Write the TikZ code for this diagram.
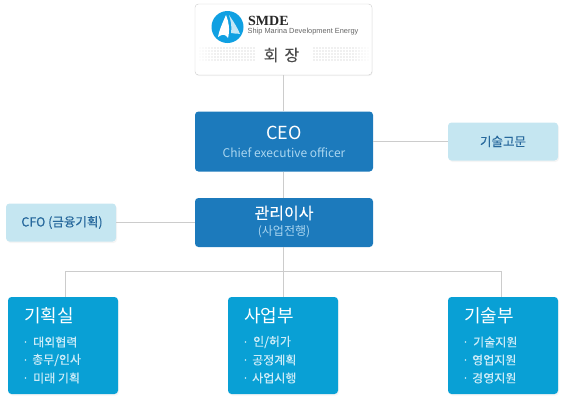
\documentclass[tikz,border=0pt]{standalone}
\usepackage{fontspec}
\setmainfont{Noto Sans CJK KR}
\newfontfamily\thickfont[FakeBold=0.25]{Noto Sans CJK KR}
\newfontfamily\logoserif{Liberation Serif}
\newfontfamily\logosans{Liberation Sans}
\usepackage[dvipsnames]{xcolor}
\usetikzlibrary{shapes,positioning,calc,shadows}
\definecolor{ceoblue}{RGB}{28,122,188}
\definecolor{deptblue}{RGB}{9,160,213}
\definecolor{paleblue}{RGB}{197,230,241}
\definecolor{paletext}{RGB}{38,104,156}
\definecolor{subtext}{RGB}{170,214,240}
\definecolor{itemtext}{RGB}{205,236,248}
\definecolor{linegray}{RGB}{204,204,204}
\definecolor{logoblue}{RGB}{16,160,226}
\tikzset{
	box/.style={rounded corners=3.5pt, inner sep=0pt, align=center},
	officebox/.style={box, fill=ceoblue, minimum width=178pt},
	sidebox/.style={box, fill=paleblue, minimum width=110pt, minimum height=38pt, text=paletext, font=\thickfont\fontsize{12.5}{14}\selectfont, drop shadow={shadow xshift=1pt, shadow yshift=-1.5pt, opacity=.08}},
	deptbox/.style={box, fill=deptblue, minimum width=110pt, minimum height=97pt, drop shadow={shadow xshift=1pt, shadow yshift=-1.5pt, opacity=.08}},
	depttitle/.style={inner sep=0pt, text=white, font=\fontsize{18}{20}\selectfont},
	deptitem/.style={inner sep=0pt, anchor=west, text=itemtext, font=\thickfont\fontsize{12}{14}\selectfont},
	link/.style={draw=linegray, line width=0.9pt},
}
\begin{document}
\begin{tikzpicture}[x=1pt, y=1pt]
	\useasboundingbox (0,0) rectangle (565,-400);
	% top row
	\node[box, draw=linegray, fill=white, minimum width=177pt, minimum height=71pt, drop shadow={shadow xshift=0.5pt, shadow yshift=-1pt, opacity=.1}] (chair) at (283.5,-39.5) {};
	\node[officebox, minimum height=60pt] (ceo) at (284,-141.5) {};
	\node[officebox, minimum height=49pt] (mgr) at (284,-222.5) {};
	\node[sidebox] (advisor) at (503,-141.5) {기술고문};
	\node[sidebox] (cfo) at (61,-222.5) {\hspace{2pt}CFO (금융기획)};
	% departments
	\node[deptbox] (dept1) at (63,-345.5) {};
	\node[deptbox] (dept2) at (283,-345.5) {};
	\node[deptbox] (dept3) at (503,-345.5) {};
	% connectors
	\coordinate (bus1) at (65.5,-271);
	\coordinate (bus2) at (283.5,-271);
	\coordinate (bus3) at (501.5,-271);
	\draw[link] (chair.south) -- (chair.south |- ceo.north);
	\draw[link] (bus2 |- ceo.south) -- (bus2 |- mgr.north);
	\draw[link] (bus2 |- mgr.south) -- (bus2);
	\draw[link] (ceo.east) -- (advisor.west);
	\draw[link] (cfo.east) -- (mgr.west);
	\draw[link] (bus1) -- (bus3);
	\draw[link] (bus1) -- (bus1 |- dept1.north);
	\draw[link] (bus2) -- (bus2 |- dept2.north);
	\draw[link] (bus3) -- (bus3 |- dept3.north);
	% logo
	\fill[logoblue] (227.5,-27) circle (16);
	\fill[white] (226,-15) .. controls (222,-24) and (219,-31) .. (218,-37) .. controls (223,-33) and (226,-35) .. (228,-38) .. controls (230,-30) and (229,-22) .. (226,-15);
	\fill[white, opacity=.75] (229,-15) .. controls (234,-22) and (238,-29) .. (240,-34) .. controls (236,-33) and (233,-34) .. (231,-33) .. controls (232,-27) and (231,-21) .. (229,-15);
	\node[inner sep=0pt, anchor=west, font=\logoserif\bfseries\fontsize{14}{15}\selectfont, text=black!85] (logoname) at (248,-20.5) {SMDE};
	\node[inner sep=0pt, anchor=west, font=\logosans\fontsize{7.4}{10}\selectfont, text=black!60] (logosub) at (247.5,-32) {Ship Marina Development Energy};
	% dotted bands either side of the title
	\foreach \i in {0,...,18}
		\foreach \j in {0,...,4}
			{
			\pgfmathsetmacro{\fadeval}{min(1,(\i+1)/6)*0.25}
			\fill[black, opacity=\fadeval] (200+3*\i,-48-3*\j) circle (0.7);
			\fill[black, opacity=\fadeval] (368-3*\i,-48-3*\j) circle (0.7);
			}
	\node[inner sep=0pt, font=\thickfont\fontsize{16}{19}\selectfont, text=black!70] (chairtitle) at (281.5,-55) {회\hspace{6pt}장};
	% office labels
	\node[inner sep=0pt, text=white, font=\fontsize{18}{20}\selectfont] (ceotitle) at (284,-133) {CEO};
	\node[inner sep=0pt, text=subtext, font=\fontsize{12}{13}\selectfont] (ceosub) at (284,-153) {Chief executive officer};
	\node[inner sep=0pt, text=white, font=\thickfont\fontsize{16}{17}\selectfont] (mgrtitle) at (284,-213) {관리이사};
	\node[inner sep=0pt, text=subtext, font=\fontsize{12}{13}\selectfont] (mgrsub) at (284,-232) {(사업전행)};
	% department labels
	\node[depttitle, anchor=west] (title1) at (24,-316) {기획실};
	\node[deptitem] (a1) at (33,-342) {대외협력};
	\node[deptitem] (a2) at (32,-360) {총무/인사};
	\node[deptitem] (a3) at (33,-378) {미래 기획};
	\node[depttitle, anchor=west] (title2) at (244,-316) {사업부};
	\node[deptitem] (b1) at (253,-342) {인/허가};
	\node[deptitem] (b2) at (252,-360) {공정계획};
	\node[deptitem] (b3) at (252,-378) {사업시행};
	\node[depttitle, anchor=west] (title3) at (464,-316) {기술부};
	\node[deptitem] (c1) at (473,-342) {기술지원};
	\node[deptitem] (c2) at (472,-360) {영업지원};
	\node[deptitem] (c3) at (472,-378) {경영지원};
	% list dots
	\foreach \n/\x in {a/25.5,b/245.5,c/465.5}
		\foreach \k/\y in {1/-342,2/-360,3/-378}
			\fill[itemtext] (\x,\y) circle (0.9);
\end{tikzpicture}
\end{document}
